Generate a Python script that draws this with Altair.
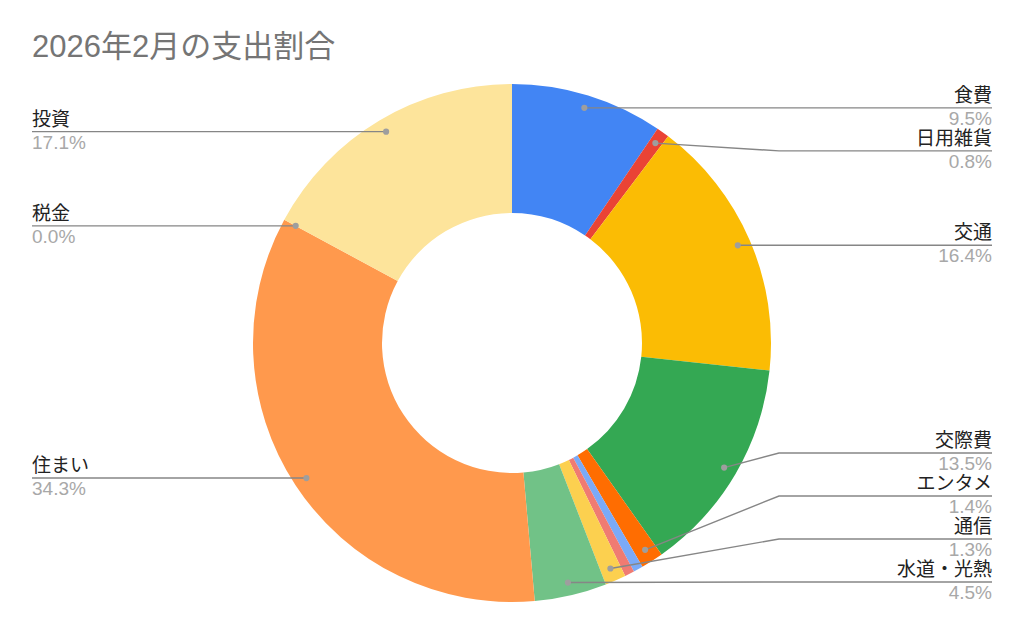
import math
import altair as alt
import pandas as pd

# ---- data ----
title_text = "2026年2月の支出割合"
categories = ["食費", "日用雑貨", "交通", "交際費", "エンタメ", "その他A", "その他B",
              "通信", "水道・光熱", "住まい", "税金", "投資"]
values = [9.5, 0.8, 16.4, 13.5, 1.4, 0.6, 0.6, 1.3, 4.5, 34.3, 0.0, 17.1]
shown = [True, True, True, True, True, False, False, True, True, True, True, True]
colors = ["#4285F4", "#EA4335", "#FBBC04", "#34A853", "#FF6D01", "#7BAAF7", "#F07B72",
          "#FCD04F", "#71C287", "#FF994D", "#7ED1D7", "#FDE49B"]

# ---- layout constants (pixels inside the chart) ----
W, H = 1008, 618
CX, CY = 504, 335
R_OUT, R_IN, R_DOT = 259, 130, 246
RIGHT_BEND, RIGHT_END = 771, 984
LEFT_BEND, LEFT_END = 237, 24
GAP = 43
BOTTOM_LIMIT = 574
FONT = "'Liberation Sans', Arial, 'Noto Sans CJK JP', sans-serif"

total = sum(values)
df = pd.DataFrame({"cat": categories, "value": values, "idx": list(range(len(values)))})

# dot positions derived from the slice mid-angles
rows = []
cum = 0.0
for c, v, s in zip(categories, values, shown):
    mid = (cum + v / 2) / total * 2 * math.pi
    cum += v
    if not s:
        continue
    dx = CX + R_DOT * math.sin(mid)
    dy = CY - R_DOT * math.cos(mid)
    rows.append({"cat": c, "value": v, "mid": mid, "dx": dx, "dy": dy,
                 "side": "R" if mid < math.pi else "L"})


def layout(items, bottom=None):
    ys = [it["dy"] for it in items]
    for i in range(1, len(ys)):
        ys[i] = max(ys[i], ys[i - 1] + GAP)
    if bottom is not None and ys:
        ys[-1] = min(ys[-1], bottom)
        for i in range(len(ys) - 2, -1, -1):
            ys[i] = min(ys[i], ys[i + 1] - GAP)
    for it, y in zip(items, ys):
        it["ly"] = y


right = sorted([r for r in rows if r["side"] == "R"], key=lambda r: r["dy"])
left = sorted([r for r in rows if r["side"] == "L"], key=lambda r: r["dy"])
layout(right, BOTTOM_LIMIT)
layout(left, BOTTOM_LIMIT)

line_rows = []
for r in right:
    line_rows += [{"cat": r["cat"], "seq": 0, "px": r["dx"], "py": r["dy"]},
                  {"cat": r["cat"], "seq": 1, "px": RIGHT_BEND, "py": r["ly"]},
                  {"cat": r["cat"], "seq": 2, "px": RIGHT_END, "py": r["ly"]}]
for r in left:
    line_rows += [{"cat": r["cat"], "seq": 0, "px": r["dx"], "py": r["dy"]},
                  {"cat": r["cat"], "seq": 1, "px": LEFT_BEND, "py": r["ly"]},
                  {"cat": r["cat"], "seq": 2, "px": LEFT_END, "py": r["ly"]}]
lines_df = pd.DataFrame(line_rows)
dots_df = pd.DataFrame([{"cat": r["cat"], "px": r["dx"], "py": r["dy"]} for r in rows])


def text_df(items, x):
    return pd.DataFrame([{"cat": r["cat"], "pct": f"{r['value']:.1f}%", "tx": x,
                          "ny": r["ly"] - 6, "py": r["ly"] + 17} for r in items])


rt = text_df(right, RIGHT_END)
lt = text_df(left, LEFT_END)

px = lambda f: alt.X(f, type="quantitative", scale=None, axis=None)
py = lambda f: alt.Y(f, type="quantitative", scale=None, axis=None)

donut = alt.Chart(df).mark_arc(innerRadius=R_IN, outerRadius=R_OUT, strokeWidth=0).encode(
    theta=alt.Theta("value:Q", stack=True, scale=alt.Scale(domain=[0, total])),
    order=alt.Order("idx:Q", sort="ascending"),
    color=alt.Color("cat:N", scale=alt.Scale(domain=categories, range=colors), legend=None),
    x=alt.value(CX), y=alt.value(CY),
)

leaders = alt.Chart(lines_df).mark_line(color="#868686", strokeWidth=1.4).encode(
    x=px("px"), y=py("py"), detail="cat:N", order="seq:Q")

dots = alt.Chart(dots_df).mark_circle(size=38, color="#9e9e9e", opacity=1).encode(
    x=px("px"), y=py("py"))


def labels(d, align):
    name = alt.Chart(d).mark_text(align=align, baseline="alphabetic", font=FONT,
                                  fontSize=19, color="#222222").encode(
        x=px("tx"), y=py("ny"), text="cat:N")
    pct = alt.Chart(d).mark_text(align=align, baseline="alphabetic", font=FONT,
                                 fontSize=19, color="#a8a8a8").encode(
        x=px("tx"), y=py("py"), text="pct:N")
    return name + pct


title = alt.Chart(pd.DataFrame({"t": [title_text], "x": [24], "y": [49]})).mark_text(
    align="left", baseline="alphabetic", font=FONT, fontSize=31, color="#757575").encode(
    x=px("x"), y=py("y"), text="t:N")

chart = alt.layer(donut, leaders, dots, labels(rt, "right"), labels(lt, "left"), title).properties(
    width=W, height=H, autosize=alt.AutoSizeParams(type="none"), padding=0
).configure_view(stroke=None)

chart.save("out.html", embed_options={"renderer": "svg", "actions": False})
